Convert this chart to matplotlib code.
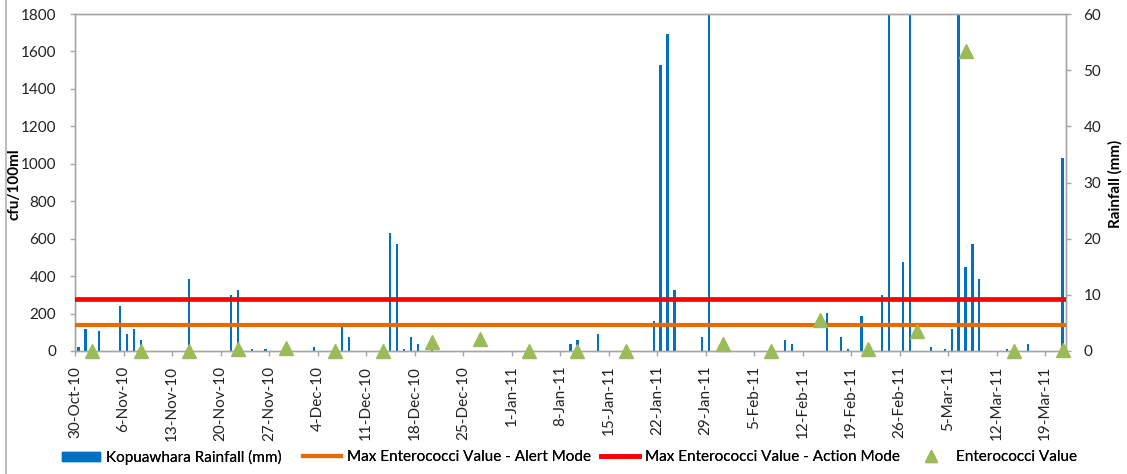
import matplotlib
matplotlib.use("Agg")
import matplotlib.pyplot as plt
from matplotlib.lines import Line2D
from datetime import datetime, timedelta

plt.rcParams['font.family'] = ['Lato', 'DejaVu Sans']

# ---- data ----
rain_dates = ["2010-10-30", "2010-10-31", "2010-11-02", "2010-11-05", "2010-11-06",
              "2010-11-07", "2010-11-08", "2010-11-15", "2010-11-21", "2010-11-22",
              "2010-11-24", "2010-11-26", "2010-12-03", "2010-12-07", "2010-12-08",
              "2010-12-14", "2010-12-15", "2010-12-16", "2010-12-17", "2010-12-18",
              "2010-12-20", "2011-01-09", "2011-01-10", "2011-01-13", "2011-01-21",
              "2011-01-22", "2011-01-23", "2011-01-24", "2011-01-28", "2011-01-29",
              "2011-02-09", "2011-02-10", "2011-02-15", "2011-02-17", "2011-02-18",
              "2011-02-20", "2011-02-23", "2011-02-24", "2011-02-26", "2011-02-27",
              "2011-03-02", "2011-03-04", "2011-03-05", "2011-03-06", "2011-03-07",
              "2011-03-08", "2011-03-09", "2011-03-13", "2011-03-16", "2011-03-21"]
rain_mm = [0.8, 4.0, 3.5, 8.1, 3.0,
           4.0, 2.0, 12.8, 10.0, 10.9,
           0.4, 0.4, 0.8, 4.3, 2.5,
           21.0, 19.1, 0.3, 2.5, 1.3,
           0.3, 1.3, 2.0, 3.0, 5.4,
           50.9, 56.4, 10.9, 2.5, 75.0,
           2.0, 1.3, 6.8, 2.5, 0.4,
           6.3, 10.0, 90.0, 15.9, 70.0,
           0.8, 0.4, 3.9, 65.0, 15.0,
           19.0, 12.8, 0.4, 1.3, 34.4]

entero_dates = ["2010-11-01", "2010-11-08", "2010-11-15", "2010-11-22", "2010-11-29",
                "2010-12-06", "2010-12-13", "2010-12-20", "2010-12-27", "2011-01-03",
                "2011-01-10", "2011-01-17", "2011-01-31", "2011-02-07", "2011-02-14",
                "2011-02-21", "2011-02-28", "2011-03-07", "2011-03-14", "2011-03-21"]
entero_vals = [0, 0, 0, 10, 15,
               0, 0, 46, 64, 0,
               0, 0, 40, 0, 163,
               12, 105, 1600, 0, 4]

alert_value = 140
action_value = 280

start_date = "2010-10-30"
end_date = "2011-03-22"
tick_step_days = 7

labels = {
    "rain": "Kopuawhara Rainfall (mm)",
    "alert": "Max Enterococci Value - Alert Mode",
    "action": "Max Enterococci Value - Action Mode",
    "entero": "Enterococci Value",
    "ylabel_left": "cfu/100ml",
    "ylabel_right": "Rainfall (mm)",
}

# ---- helpers ----
def to_dt(s):
    return datetime.strptime(s, "%Y-%m-%d")

W, H = 1127, 474
half_day = timedelta(hours=12)
rain_x = [to_dt(d) + half_day for d in rain_dates]
entero_x = [to_dt(d) + half_day for d in entero_dates]
x0, x1 = to_dt(start_date), to_dt(end_date)

c_rain, c_alert, c_action, c_entero = "#0070C0", "#E36C09", "#FF0000", "#9BBB59"

fig = plt.figure(figsize=(W/100, H/100), dpi=100)
ax = fig.add_axes([75/W, 1-351/H, (1066-75)/W, (351-14)/H])
ax2 = ax.twinx()

grey = "#A6A6A6"
ax2.bar(rain_x, rain_mm, width=0.32, color=c_rain, zorder=2)
ax2.set_ylim(0, 60)
ax2.set_yticks(range(0, 61, 10))
ax2.patch.set_facecolor("#F2F2F2")

ax.set_zorder(ax2.get_zorder() + 1)
ax.patch.set_visible(False)
ax.axhline(alert_value, color=c_alert, lw=3.0, zorder=3)
ax.axhline(action_value, color=c_action, lw=3.4, zorder=3)
ax.plot(entero_x, entero_vals, linestyle="none", marker="^", markersize=10.5,
        color=c_entero, zorder=4, clip_on=False)
ax.set_ylim(0, 1800)
ax.set_yticks(range(0, 1801, 200))
ax.set_xlim(x0, x1)
ax2.set_xlim(x0, x1)

ticks = []
t = x0
while t <= x1:
    ticks.append(t)
    t += timedelta(days=tick_step_days)
ax.set_xticks(ticks)
ax.set_xticklabels([f"{d.day}-{d.strftime('%b')}-{d.strftime('%y')}" for d in ticks],
                   rotation=90, fontsize=11.5, color="#222222")

for a in (ax, ax2):
    for sp in a.spines.values():
        sp.set_color(grey)
        sp.set_linewidth(1.0)
    a.tick_params(color=grey, length=3.6, width=1.0, labelsize=11, labelcolor="#222222")

ax.tick_params(axis='y', pad=10)
ax.tick_params(axis='x', pad=7)
ax2.tick_params(axis='y', pad=9)

fig.text(15/W, 1-184/H, labels["ylabel_left"], rotation=90, ha="center", va="center",
         fontsize=11, fontweight="bold")
fig.text(1115/W, 1-184/H, labels["ylabel_right"], rotation=90, ha="center", va="center",
         fontsize=11, fontweight="bold")

fig.add_artist(Line2D([6/W, 6/W], [0, 1], transform=fig.transFigure, color="#BFBFBF", lw=1.5))

entries = [
    (plt.Rectangle((0, 0), 1, 1, color=c_rain), labels["rain"], 62),
    (Line2D([], [], color=c_alert, lw=3.0), labels["alert"], 303),
    (Line2D([], [], color=c_action, lw=3.4), labels["action"], 601),
    (Line2D([], [], linestyle="none", marker="^", markersize=8, color=c_entero), labels["entero"], 912),
]
for h, lab, xl in entries:
    lg = fig.legend([h], [lab], loc="center left", bbox_to_anchor=(xl/W, 1-457/H),
                    frameon=False, fontsize=11, handlelength=2.5, handleheight=0.55,
                    handletextpad=0.4, borderpad=0, borderaxespad=0)
    fig.add_artist(lg)

fig.savefig("out.png", dpi=100, facecolor="white")
